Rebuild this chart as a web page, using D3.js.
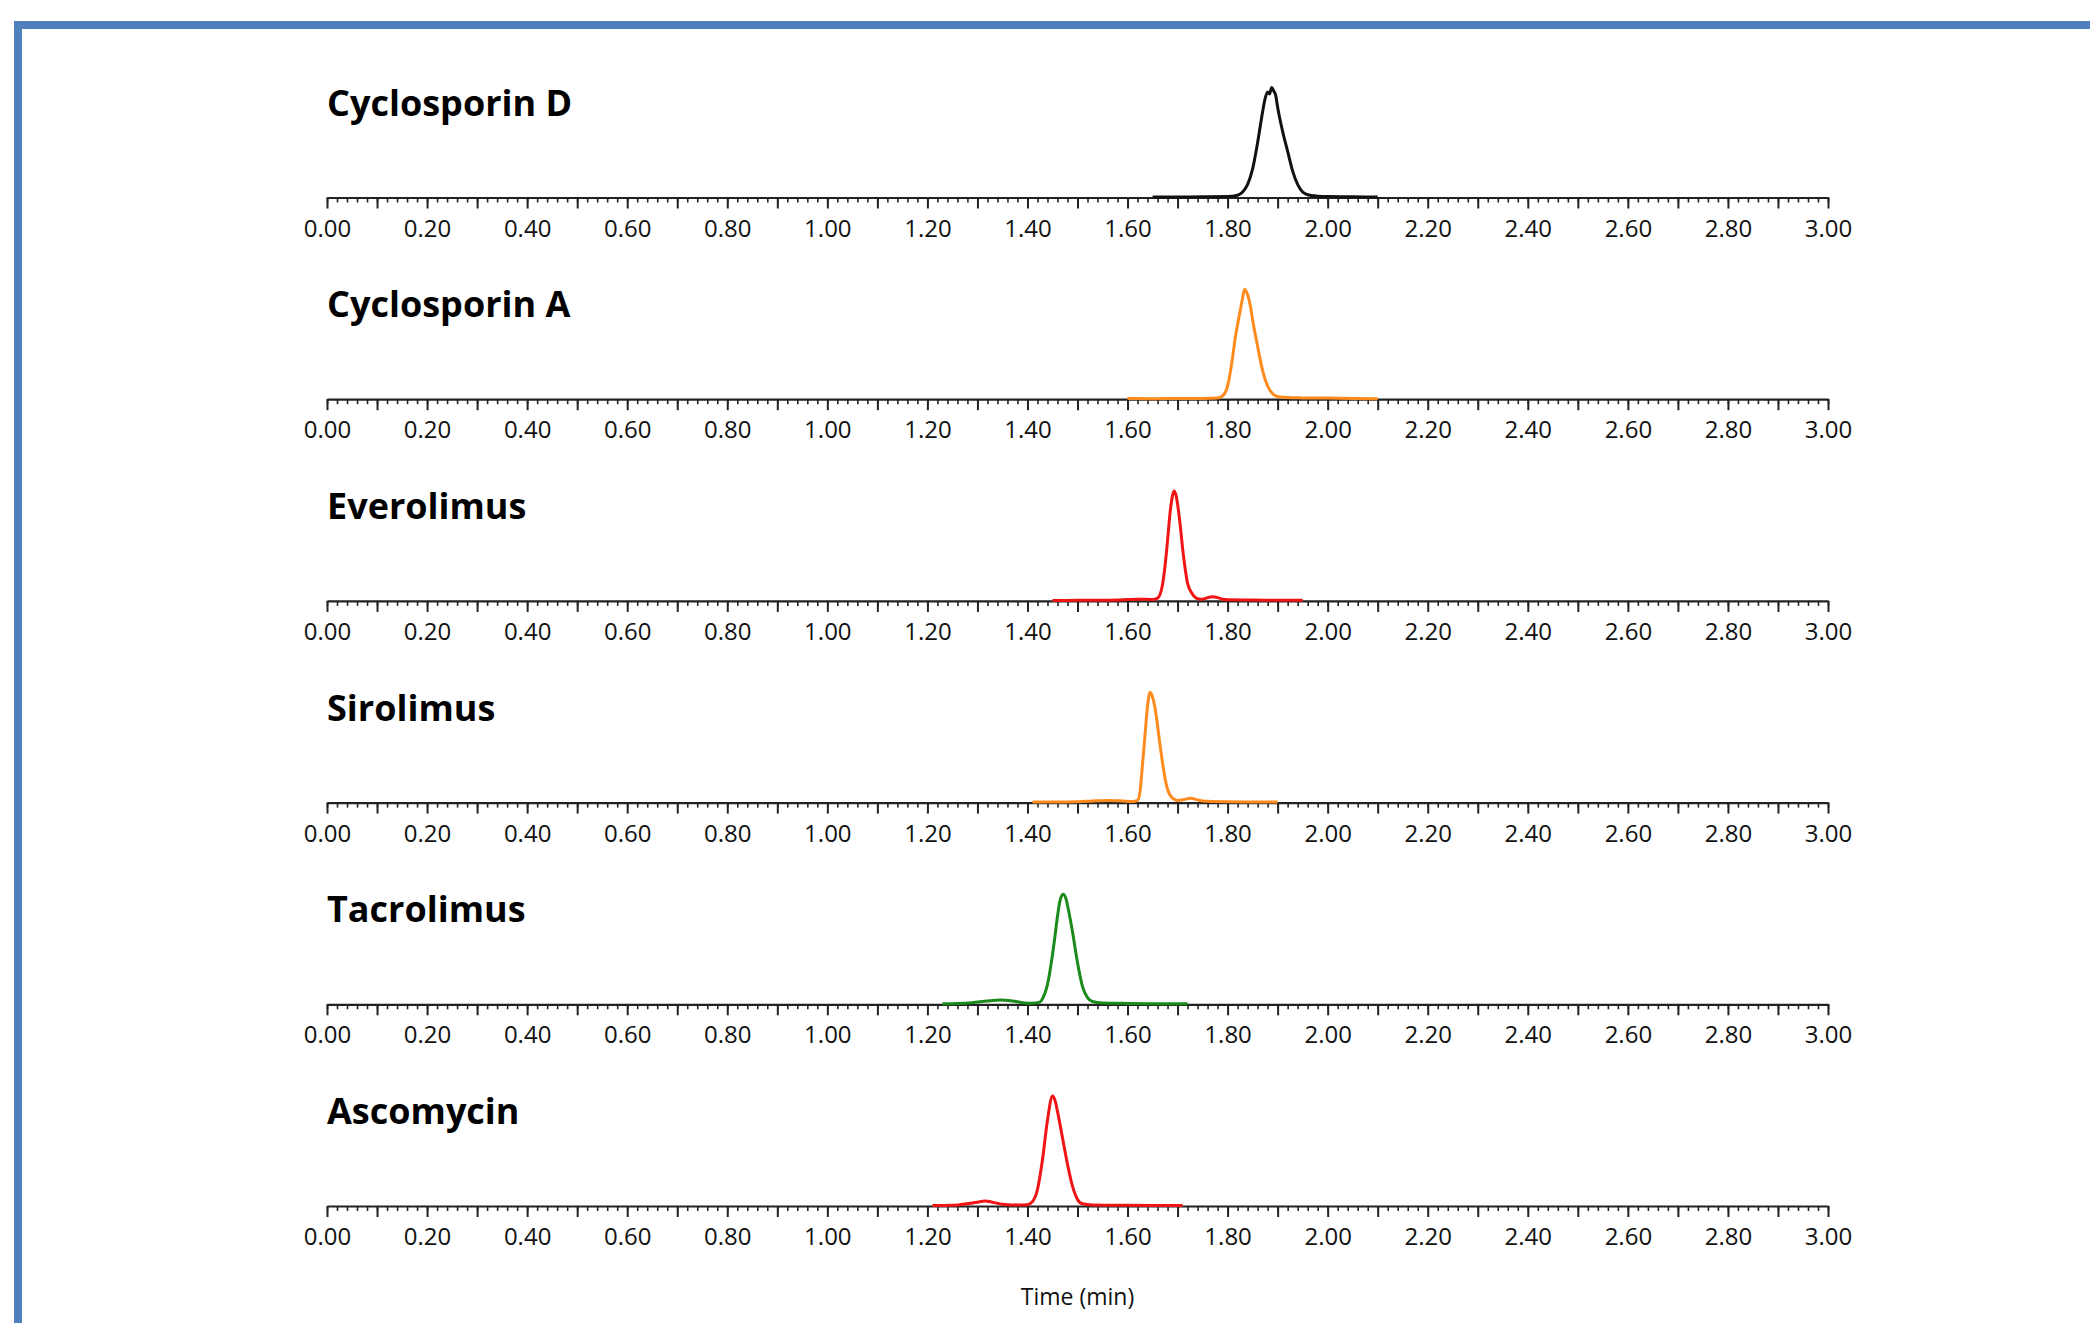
<!DOCTYPE html>
<html>
<head>
<meta charset="utf-8">
<script src="https://cdn.jsdelivr.net/npm/d3@7"></script>
<style>
  html, body { margin: 0; padding: 0; background: #fff; overflow: hidden; }
</style>
</head>
<body>
<div id="chart"></div>
<script>
// compound names, top to bottom
const compounds = ["Cyclosporin D", "Cyclosporin A", "Everolimus", "Sirolimus", "Tacrolimus", "Ascomycin"];

// tick values (min)
const majorTicks = d3.range(0, 31).map(i => i / 10);
const minorTicks = d3.range(0, 151).map(i => i / 50);

// traces: [time (min), relative signal %]
const cyclosporinD = [
  [1.65, 0.5], [1.70, 0.5], [1.75, 0.6], [1.80, 0.8], [1.82, 2], [1.83, 5], [1.84, 12],
  [1.85, 26], [1.86, 50], [1.87, 78], [1.875, 90], [1.88, 96], [1.884, 94], [1.888, 100],
  [1.892, 97], [1.896, 93], [1.90, 82], [1.91, 60], [1.92, 42], [1.93, 24], [1.94, 12],
  [1.95, 5], [1.96, 2.5], [1.98, 1.2], [2.00, 0.8], [2.05, 0.6], [2.10, 0.4]
];
const cyclosporinA = [
  [1.60, 0.6], [1.65, 0.5], [1.70, 0.6], [1.75, 0.7], [1.78, 1], [1.79, 3], [1.80, 12],
  [1.81, 38], [1.815, 55], [1.82, 68], [1.825, 80], [1.83, 92], [1.834, 100], [1.84, 95],
  [1.845, 86], [1.85, 72], [1.86, 48], [1.87, 26], [1.88, 12], [1.89, 5], [1.90, 2.5],
  [1.92, 1.5], [1.95, 1.2], [2.00, 1], [2.05, 0.6], [2.10, 0.4]
];
const everolimus = [
  [1.45, 0.4], [1.50, 0.5], [1.55, 0.6], [1.58, 0.8], [1.60, 1.3], [1.62, 1.6], [1.64, 1.5],
  [1.65, 1.2], [1.66, 2.5], [1.67, 15], [1.675, 32], [1.68, 55], [1.685, 80], [1.69, 96],
  [1.693, 100], [1.697, 96], [1.70, 88], [1.705, 70], [1.71, 48], [1.715, 30], [1.72, 16],
  [1.73, 6], [1.74, 2], [1.75, 1.5], [1.76, 3], [1.77, 3.8], [1.78, 3], [1.79, 1.5],
  [1.80, 1], [1.85, 0.8], [1.90, 0.6], [1.95, 0.5]
];
const sirolimus = [
  [1.41, 0.5], [1.45, 0.5], [1.50, 0.8], [1.53, 1.5], [1.56, 2], [1.59, 1.5], [1.61, 1],
  [1.62, 2], [1.625, 10], [1.63, 35], [1.635, 62], [1.64, 88], [1.645, 100], [1.65, 96],
  [1.655, 86], [1.66, 70], [1.665, 52], [1.67, 36], [1.675, 22], [1.68, 12], [1.69, 4],
  [1.70, 2], [1.71, 2.5], [1.725, 4], [1.74, 2.5], [1.75, 1.5], [1.80, 0.8], [1.85, 0.6],
  [1.90, 0.5]
];
const tacrolimus = [
  [1.23, 0.5], [1.26, 0.7], [1.29, 1.5], [1.32, 3], [1.345, 3.8], [1.37, 3], [1.39, 1.5],
  [1.41, 1], [1.425, 2], [1.43, 5], [1.44, 18], [1.45, 45], [1.455, 62], [1.46, 80],
  [1.465, 94], [1.471, 100], [1.477, 96], [1.48, 90], [1.49, 66], [1.50, 38], [1.51, 16],
  [1.52, 6], [1.53, 2.5], [1.55, 1.2], [1.60, 0.8], [1.65, 0.6], [1.72, 0.5]
];
const ascomycin = [
  [1.21, 0.5], [1.25, 0.6], [1.27, 1.5], [1.30, 3.5], [1.315, 4.5], [1.33, 3.5], [1.35, 1.5],
  [1.37, 1], [1.40, 1.2], [1.41, 4], [1.42, 15], [1.43, 42], [1.44, 78], [1.45, 100],
  [1.455, 96], [1.46, 86], [1.47, 62], [1.48, 38], [1.49, 18], [1.50, 6], [1.51, 2],
  [1.53, 1], [1.60, 0.6], [1.65, 0.5], [1.71, 0.4]
];
const traces = [cyclosporinD, cyclosporinA, everolimus, sirolimus, tacrolimus, ascomycin];

// trace colours
const traceColors = ["#111111", "#ff8b1e", "#f01414", "#ff8b1e", "#1a8a1a", "#f01414"];

// layout
const width = 2090,
      height = 1323;
const x0 = 327, x1 = 1828;
const firstAxisY = 197.5, panelStep = 201.7, peakHeight = 110;

const svg = d3.select("#chart")
  .append("svg")
    .attr("width", width)
    .attr("height", height);

svg.append("rect")
  .attr("width", width)
  .attr("height", height)
  .attr("fill", "#fff");

// blue frame, runs off the right and bottom edges
svg.append("rect")
  .attr("x", 18)
  .attr("y", 25)
  .attr("width", width + 40)
  .attr("height", height + 40)
  .attr("fill", "none")
  .attr("stroke", "#4f81bd")
  .attr("stroke-width", 8);

const xScale = d3.scaleLinear()
  .domain([0, 3])
  .range([x0, x1]);

compounds.forEach(function(name, i) {
  const axisY = firstAxisY + i * panelStep;

  const yScale = d3.scaleLinear()
    .domain([0, 100])
    .range([axisY, axisY - peakHeight]);

  // minor ticks
  svg.append("g")
    .attr("class", "minor")
    .attr("transform", "translate(0," + axisY + ")")
    .call(d3.axisBottom(xScale).tickValues(minorTicks).tickSize(5).tickSizeOuter(0).tickFormat(""))
    .call(g => g.select(".domain").remove())
    .call(g => g.selectAll("line").attr("stroke", "#222").attr("stroke-width", 1.6));

  // major ticks + labels every 0.2
  const ax = svg.append("g")
    .attr("class", "x-axis")
    .attr("transform", "translate(0," + axisY + ")")
    .call(d3.axisBottom(xScale)
      .tickValues(majorTicks)
      .tickSize(11)
      .tickSizeOuter(0)
      .tickFormat(d => Math.round(d * 10) % 2 === 0 ? d3.format(".2f")(d) : ""));

  ax.select(".domain").attr("stroke", "#222").attr("stroke-width", 2.2);
  ax.selectAll("line").attr("stroke", "#222").attr("stroke-width", 2);
  ax.selectAll("text")
    .attr("y", 39)
    .attr("dy", 0)
    .attr("fill", "#111")
    .style("font-family", "'Open Sans', sans-serif")
    .style("font-size", "24px");

  // compound name
  svg.append("text")
    .attr("x", 327)
    .attr("y", axisY - 82)
    .style("font-family", "'Open Sans', sans-serif")
    .style("font-weight", "bold")
    .style("font-size", "36px")
    .attr("fill", "#000")
    .text(name);

  // chromatogram
  const line = d3.line()
    .x(d => xScale(d[0]))
    .y(d => yScale(d[1]))
    .curve(d3.curveMonotoneX);

  svg.append("path")
    .datum(traces[i])
    .attr("d", line)
    .attr("fill", "none")
    .attr("stroke", traceColors[i])
    .attr("stroke-width", 3)
    .attr("stroke-linejoin", "round");
});

// x label
svg.append("text")
  .attr("x", (x0 + x1) / 2)
  .attr("y", 1305)
  .style("text-anchor", "middle")
  .style("font-family", "'Open Sans', sans-serif")
  .style("font-size", "23px")
  .attr("fill", "#111")
  .text("Time (min)");
</script>
</body>
</html>
